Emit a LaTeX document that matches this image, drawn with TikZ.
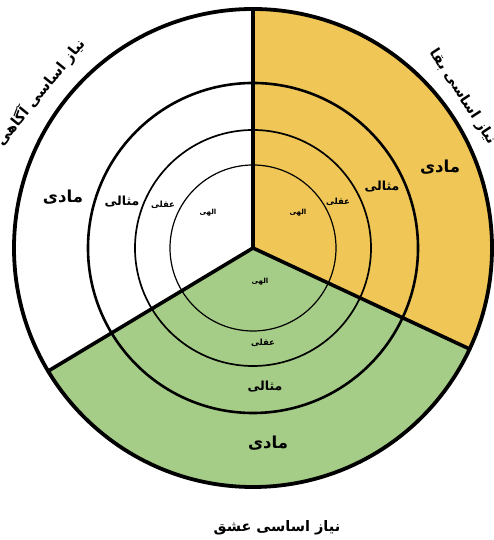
\documentclass[tikz,border=0pt]{standalone}
\usepackage{fontspec}
\usetikzlibrary{calc}
\newfontfamily\farsi[Script=Arabic]{DejaVu Sans}
\TeXXeTstate=1
\definecolor{baqa}{RGB}{240,198,86}
\definecolor{eshq}{RGB}{166,205,136}

\begin{document}
\begin{tikzpicture}[x=1pt,y=1pt,
    madi/.style={font=\farsi\bfseries\fontsize{16.5}{16.5}\selectfont},
    mesali/.style={font=\farsi\bfseries\fontsize{12.5}{12.5}\selectfont},
    aqli/.style={font=\farsi\bfseries\fontsize{8.5}{8.5}\selectfont},
    elahi/.style={font=\farsi\bfseries\fontsize{7}{7}\selectfont},
    need/.style={font=\farsi\bfseries\fontsize{14.5}{14.5}\selectfont}]
    \useasboundingbox[fill=white] (0,0) rectangle (493,540);
    \coordinate (O) at (253,292);

    % sectors
    \fill[baqa] (O) -- ++(90:239) arc[start angle=90, end angle=-25, radius=239] -- cycle;
    \fill[eshq] (O) -- ++(211:239) arc[start angle=211, end angle=335, radius=239] -- cycle;

    % rings
    \draw[line width=1.2] (O) circle (83);
    \draw[line width=1.7] (O) circle (118);
    \draw[line width=2.6] (O) circle (165);
    \draw[line width=3.8] (O) circle (239);

    % dividers
    \coordinate (T) at ($(O)+(90:239)$);
    \coordinate (L) at ($(O)+(211:239)$);
    \coordinate (R) at ($(O)+(335:239)$);
    \draw[line width=3.6, line cap=round] (O) -- (T);
    \draw[line width=3.6, line cap=round] (O) -- (L);
    \draw[line width=3.6, line cap=round] (O) -- (R);

    % left part
    \node[madi] (madiA) at (63,343) {\beginR مادی\endR};
    \node[mesali] (mesaliA) at (122,338) {\beginR مثالی\endR};
    \node[aqli] (aqliA) at (163,335) {\beginR عقلی\endR};
    \node[elahi] (elahiA) at (208,327) {\beginR الهی\endR};

    % yellow part
    \node[madi] (madiB) at (440,373) {\beginR مادی\endR};
    \node[mesali] (mesaliB) at (382,353) {\beginR مثالی\endR};
    \node[aqli] (aqliB) at (338,338) {\beginR عقلی\endR};
    \node[elahi] (elahiB) at (298,327) {\beginR الهی\endR};

    % green part
    \node[elahi] (elahiC) at (260,258) {\beginR الهی\endR};
    \node[aqli] (aqliC) at (263,197) {\beginR عقلی\endR};
    \node[mesali] (mesaliC) at (265,153) {\beginR مثالی\endR};
    \node[madi] (madiC) at (268,97) {\beginR مادی\endR};

    % needs
    \node[need, rotate=51] (agahi) at (40,448) {\beginR نیاز اساسی آگاهی\endR};
    \node[need, rotate=-57] (baqaN) at (463,443) {\beginR نیاز اساسی بقا\endR};
    \node[need] (eshqN) at (277,12) {\beginR نیاز اساسی عشق\endR};
\end{tikzpicture}
\end{document}
